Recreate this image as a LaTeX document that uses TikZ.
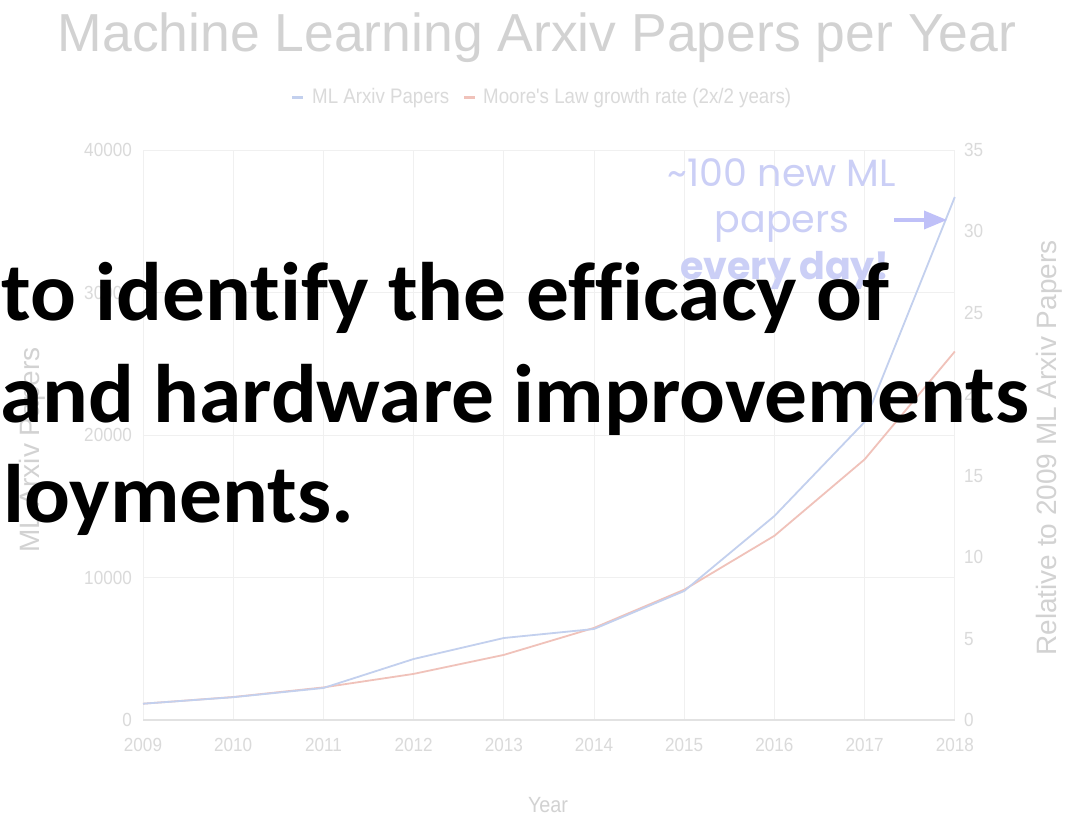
\documentclass[tikz,border=0pt]{standalone}
\usepackage{fontspec}
\usetikzlibrary{arrows.meta}
\setmainfont{Liberation Sans}
\newfontfamily\condfont[FakeStretch=0.89]{Liberation Sans}
\newfontfamily\tickfont[FakeStretch=0.9]{Liberation Sans}
\newfontfamily\annfont{Poppins}
\newfontfamily\boldcal[FakeStretch=1.03,Ligatures=NoCommon]{Carlito Bold}
\definecolor{titlegray}{HTML}{D2D2D2}
\definecolor{tickgray}{HTML}{DADADA}
\definecolor{gridgray}{HTML}{F0F0F0}
\definecolor{basegray}{HTML}{E2E2E2}
\definecolor{mlblue}{HTML}{C3D0EE}
\definecolor{moorered}{HTML}{F0C2BA}
\definecolor{annot}{HTML}{CBCFF6}
\definecolor{arrowc}{HTML}{BFC0F8}
\tikzset{
  grid/.style={draw=gridgray, line width=0.8pt},
  ticklab/.style={text=tickgray, font=\tickfont\fontsize{19}{19}\selectfont, inner sep=0pt},
  axtitle/.style={text=titlegray, font=\fontsize{28}{28}\selectfont, inner sep=0pt},
  legtext/.style={text=tickgray, font=\condfont\fontsize{21}{21}\selectfont, inner sep=0pt, anchor=west},
  series/.style={line width=1.8pt, line join=round},
  annottext/.style={text=annot, font=\annfont\fontsize{38}{38}\selectfont, inner sep=0pt, anchor=base},
  overlay/.style={text=black, font=\boldcal\fontsize{83}{83}\selectfont, inner sep=0pt, anchor=base west}
}
\begin{document}
\begin{tikzpicture}[x=1pt,y=-1pt]
\useasboundingbox (0,0) rectangle (1092,816);
\fill[white] (0,0) rectangle (1092,816);
% title
\node[text=titlegray, font=\fontsize{53.5}{53.5}\selectfont, inner sep=0pt, anchor=base] (title) at (537,52) {Machine Learning Arxiv Papers per Year};
% legend
\draw[mlblue, line width=3pt] (292,97) -- (303,97);
\node[legtext] (leg1) at (312,98) {ML Arxiv Papers};
\draw[moorered, line width=3pt] (464,97) -- (475,97);
\node[legtext] (leg2) at (483,98) {Moore's Law growth rate (2x/2 years)};
% grid
\foreach \yy in {150,292.5,435,577.5} \draw[grid] (143,\yy) -- (955,\yy);
\foreach \i in {1,...,9} \draw[grid] ({143+\i*90.2},150) -- ({143+\i*90.2},720);
\draw[grid] (143,150) -- (143,720);
\draw[draw=basegray, line width=1.2pt] (143,720) -- (955,720);
% left tick labels
\foreach \v/\yy in {0/720,10000/577.5,20000/435,30000/292.5,40000/150}
  \node[ticklab, anchor=east] (l\v) at (132,\yy) {\v};
% right tick labels
\foreach \v in {0,5,...,35}
  \node[ticklab, anchor=west] (r\v) at (964,{720-\v*16.286}) {\v};
% year labels
\foreach \i in {0,...,9}
  \node[ticklab, anchor=north] (yr\i) at ({143+\i*90.2},738) {\the\numexpr2009+\i\relax};
% axis titles
\node[text=titlegray, font=\tickfont\fontsize{22}{22}\selectfont, inner sep=0pt] (xtitle) at (548,805) {Year};
\node[axtitle, rotate=90] (ytitle) at (32,450) {ML Arxiv Papers};
\node[axtitle, rotate=90] (y2title) at (1049,448) {Relative to 2009 ML Arxiv Papers};
% series
\draw[series, moorered] (143,703.7) -- (233.2,697.0) -- (323.4,687.4) -- (413.6,673.9) -- (503.8,654.9) -- (594,627.9) -- (684.2,589.7) -- (774.4,535.8) -- (864.6,459.4) -- (954.8,351.5);
\draw[series, mlblue] (143,703.7) -- (233.2,697.2) -- (323.4,688) -- (413.6,659) -- (503.8,638) -- (594,629) -- (684.2,591) -- (774.4,516) -- (864.6,422) -- (954.8,197);
% annotation
\node[annottext] (an1) at (782,186) {\textasciitilde 100 new ML};
\node[annottext] (an2) at (782,232) {papers};
\node[annottext, font=\annfont\bfseries\fontsize{38}{38}\selectfont] (an3) at (785,279) {every day!};
\coordinate (arrS) at (894,220);
\coordinate (arrE) at (947,220);
\draw[arrowc, line width=3.5pt, -{Triangle[length=23pt,width=18pt]}] (arrS) -- (arrE);
% overlay text
\node[overlay] (o1) at (1,320) {to identify the efficacy of};
\node[overlay] (o2) at (0,422) {and hardware improvements};
\node[overlay] (o3) at (3,522) {loyments.};
\end{tikzpicture}
\end{document}
